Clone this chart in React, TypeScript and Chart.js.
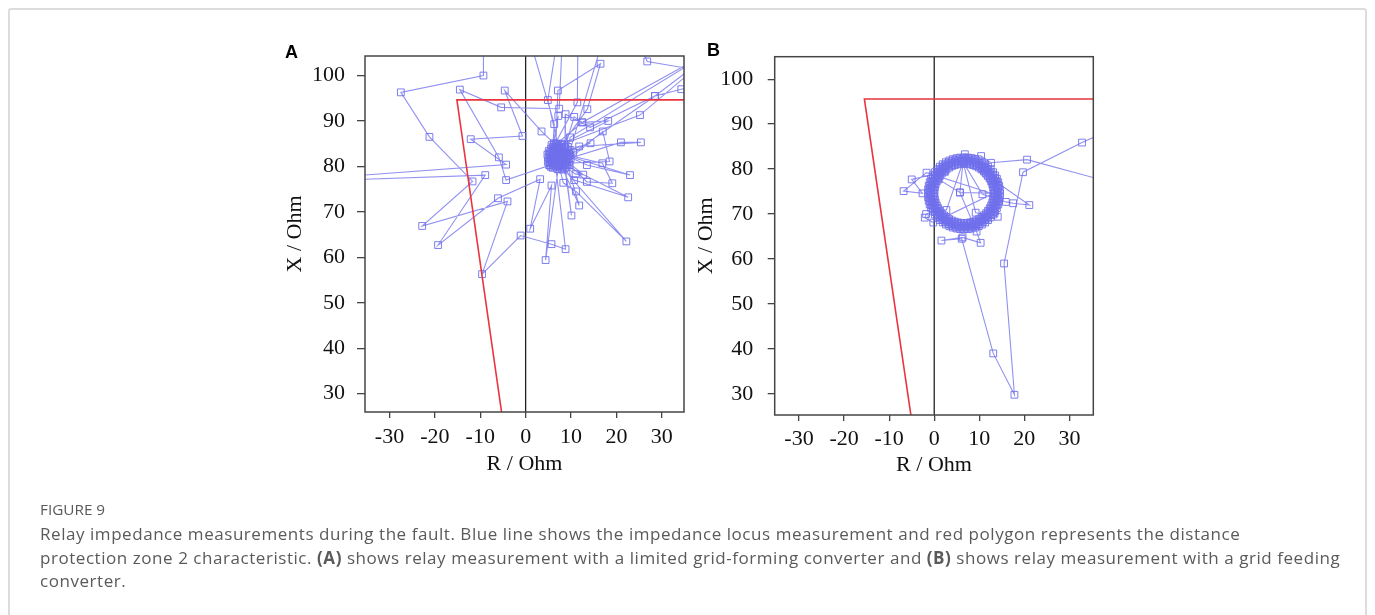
import React, { useEffect, useRef } from 'react';
import { Chart, registerables } from 'chart.js';
Chart.register(...registerables);

type Pt = [number, number];

const xTicks = [-30, -20, -10, 0, 10, 20, 30];
const yTicks = [30, 40, 50, 60, 70, 80, 90, 100];

// Zone 2 characteristic (quadrilateral, visible part)
const zoneA: Pt[] = [[40, 94.65], [-15.15, 94.65], [-4.45, 20]];
const zoneB: Pt[] = [[40, 95.6], [-15.5, 95.6], [-4.4, 20]];
const rZeroLine: Pt[] = [[0, 20], [0, 110]];

// Panel A: limited grid-forming converter
const locusA: Pt[] = [
  [-9.3, 118], [-9.3, 100.0], [-27.5, 96.3], [-21.2, 86.5], [-11.7, 76.7], [-22.8, 66.9],
  [-4.0, 72.3], [-9.6, 56.3], [-1.1, 64.8], [5.7, 62.9], [8.8, 61.8], [6.2, 83.5], [7.8, 84.0],
  [4.4, 59.4], [5.7, 75.8], [1.0, 66.3], [3.2, 77.2], [-6.1, 73.0], [-19.3, 62.7], [-8.9, 78.1],
  [-60, 76.3], [-4.3, 80.4], [-12.1, 86.0], [-0.7, 86.7], [-4.6, 96.7], [3.5, 87.7], [8.6, 82.9],
  [9.0, 81.5], [-4.3, 77.0], [-5.9, 82.0], [-14.5, 96.9], [-5.4, 93.0], [7.4, 92.7], [8.5, 118],
  [4.9, 94.6], [8.1, 80.3], [6.5, 80.1], [7.1, 96.7], [16.5, 102.6], [13.6, 92.6], [5.4, 81.2],
  [5.3, 82.8], [11.4, 94.1], [11.6, 118], [-2, 118], [6.3, 89.3], [6.0, 84.3], [12.5, 89.7],
  [18.2, 90.0], [7.2, 84.5], [25.2, 91.3], [45, 108], [28.5, 95.5], [34.3, 97.0], [48, 99.5],
  [26.8, 103.1], [20, 118], [9.4, 82.2], [28.5, 95.5], [14.2, 88.6], [8.8, 91.5], [8.7, 80.6],
  [9.8, 86.4], [42, 106], [12.5, 89.7], [10.7, 90.9], [7.3, 79.8], [17.0, 87.7], [18.5, 81.1],
  [5.8, 80.6], [21.0, 85.3], [25.4, 85.3], [11.8, 84.4], [14.3, 85.1], [5.0, 82.0], [10.5, 83.1],
  [5.6, 83.9], [13.5, 80.3], [23.0, 78.1], [7.0, 83.0], [16.9, 80.7], [19.1, 76.3], [13.5, 76.6],
  [7.9, 82.1], [12.7, 78.2], [11.0, 78.3], [7.2, 81.0], [22.6, 73.2], [10.7, 77.0], [6.3, 81.8],
  [22.2, 63.5], [11.1, 74.5], [8.3, 76.4], [6.8, 82.6], [11.8, 71.4], [8.3, 83.3], [10.1, 69.2],
  [8.4, 81.3], [8.1, 79.3], [5.2, 80.3], [7.2, 91.1], [6.2, 85.1], [6.0, 81.0], [5.5, 82.4],
  [6.6, 84.0], [8.0, 84.3], [9.2, 83.0], [9.1, 80.9], [7.6, 80.5], [6.4, 80.6], [5.2, 81.6],
  [5.9, 83.2], [7.5, 83.6], [7.4, 82.4], [6.7, 81.4], [8.2, 81.8], [6.9, 80.8], [7.7, 83.0],
  [9.8, 82.5], [9.6, 81.0], [9.9, 83.6], [5.1, 83.4], [4.9, 81.0], [5.7, 84.7], [8.5, 84.8],
  [9.3, 84.3], [9.7, 80.3], [8.6, 79.6], [6.0, 79.7], [5.3, 80.2], [7.0, 79.4], [8.0, 79.5],
  [7.1, 85.0], [6.3, 84.8], [5.6, 79.9], [9.0, 79.9], [9.9, 81.7], [4.8, 82.6], [6.9, 84.2],
  [8.8, 84.0], [9.5, 83.5], [6.1, 82.2], [8.5, 82.5], [7.6, 81.6], [6.6, 83.2], [8.9, 82.0],
  [5.8, 81.5], [7.3, 84.1], [6.5, 82.0], [7.1, 82.2], [7.8, 81.2], [8.6, 81.9], [6.1, 83.0],
  [7.4, 83.9], [8.3, 82.9], [6.8, 80.4], [5.7, 81.9], [8.9, 83.1], [7.9, 84.7], [6.4, 84.3],
  [5.4, 83.1], [9.3, 81.6], [8.2, 80.0], [6.2, 80.2], [7.3, 80.1], [5.9, 82.7], [7.7, 82.5],
  [8.7, 83.9], [9.6, 82.8], [5.3, 81.9], [6.7, 85.0], [8.0, 85.0], [9.2, 80.4], [5.5, 80.7],
  [7.0, 81.8], [8.1, 83.6], [6.3, 83.6], [7.5, 80.9],
];

// Panel B: grid feeding converter — approach, then the circulating locus
const approachB: Pt[] = [
  [45, 91.5], [32.8, 85.9], [19.7, 79.3], [15.5, 59.0], [17.8, 29.8], [13.1, 39.0], [6.1, 64.5],
  [1.6, 64.1], [6.3, 64.8], [10.3, 63.6], [9.4, 66.1], [5.7, 74.8], [6.4, 81.6], [2.7, 70.9],
  [-1.8, 70.0], [-2.1, 69.2], [-0.2, 68.1],
];
const ringB1: Pt[] = [
  [13.2, 74.6], [13.16, 75.29], [13.06, 75.97], [12.88, 76.64], [12.63, 77.28], [12.32, 77.9],
  [11.94, 78.48], [11.5, 79.02], [11.02, 79.5], [10.48, 79.94], [9.9, 80.32], [9.28, 80.63],
  [8.64, 80.88], [7.97, 81.06], [7.29, 81.16], [6.6, 81.2], [5.91, 81.16], [5.23, 81.06],
  [4.56, 80.88], [3.92, 80.63], [3.3, 80.32], [2.72, 79.94], [2.18, 79.5], [1.7, 79.02],
  [1.26, 78.48], [0.88, 77.9], [0.57, 77.28], [0.32, 76.64], [0.14, 75.97], [0.04, 75.29],
  [0.0, 74.6], [0.04, 73.91], [0.14, 73.23], [0.32, 72.56], [0.57, 71.92], [0.88, 71.3],
  [1.26, 70.72], [1.7, 70.18], [2.18, 69.7], [2.72, 69.26], [3.3, 68.88], [3.92, 68.57],
  [4.56, 68.32], [5.23, 68.14], [5.91, 68.04], [6.6, 68.0], [7.29, 68.04], [7.97, 68.14],
  [8.64, 68.32], [9.28, 68.57], [9.9, 68.88], [10.48, 69.26], [11.02, 69.7], [11.5, 70.18],
  [11.94, 70.72], [12.32, 71.3], [12.63, 71.92], [12.88, 72.56], [13.06, 73.23], [13.16, 73.91],
];
const spokesB1: Pt[] = [
  [13.1, 77.6], [21.1, 72.0], [17.5, 72.4], [15.9, 72.7], [10.7, 74.4], [6.4, 81.6], [9.2, 70.3],
  [14.1, 69.4],
];
const ringB2: Pt[] = [
  [13.89, 74.98], [13.81, 75.74], [13.65, 76.49], [13.42, 77.22], [13.1, 77.91], [12.72, 78.58],
  [12.27, 79.19], [11.76, 79.76], [11.19, 80.27], [10.58, 80.72], [9.91, 81.1], [9.22, 81.42],
  [8.49, 81.65], [7.74, 81.81], [6.98, 81.89], [6.22, 81.89], [5.46, 81.81], [4.71, 81.65],
  [3.98, 81.42], [3.29, 81.1], [2.62, 80.72], [2.01, 80.27], [1.44, 79.76], [0.93, 79.19],
  [0.48, 78.58], [0.1, 77.91], [-0.22, 77.22], [-0.45, 76.49], [-0.61, 75.74], [-0.69, 74.98],
  [-0.69, 74.22], [-0.61, 73.46], [-0.45, 72.71], [-0.22, 71.98], [0.1, 71.29], [0.48, 70.62],
  [0.93, 70.01], [1.44, 69.44], [2.01, 68.93], [2.62, 68.48], [3.29, 68.1], [3.98, 67.78],
  [4.71, 67.55], [5.46, 67.39], [6.22, 67.31], [6.98, 67.31], [7.74, 67.39], [8.49, 67.55],
  [9.22, 67.78], [9.91, 68.1], [10.58, 68.48], [11.19, 68.93], [11.76, 69.44], [12.27, 70.01],
  [12.72, 70.62], [13.1, 71.29], [13.42, 71.98], [13.65, 72.71], [13.81, 73.46], [13.89, 74.22],
];
const spokesB2: Pt[] = [
  [-1.7, 79.2], [-6.8, 75.1], [-2.6, 74.6], [-5.0, 77.7], [2.4, 79.4], [1.0, 77.7], [5.7, 74.8],
];
const ringB3: Pt[] = [
  [14.6, 74.6], [14.56, 75.44], [14.42, 76.26], [14.21, 77.07], [13.91, 77.85], [13.53, 78.6],
  [13.07, 79.3], [12.54, 79.95], [11.95, 80.54], [11.3, 81.07], [10.6, 81.53], [9.85, 81.91],
  [9.07, 82.21], [8.26, 82.42], [7.44, 82.56], [6.6, 82.6], [5.76, 82.56], [4.94, 82.42],
  [4.13, 82.21], [3.35, 81.91], [2.6, 81.53], [1.9, 81.07], [1.25, 80.54], [0.66, 79.95],
  [0.13, 79.3], [-0.33, 78.6], [-0.71, 77.85], [-1.01, 77.07], [-1.22, 76.26], [-1.36, 75.44],
  [-1.4, 74.6], [-1.36, 73.76], [-1.22, 72.94], [-1.01, 72.13], [-0.71, 71.35], [-0.33, 70.6],
  [0.13, 69.9], [0.66, 69.25], [1.25, 68.66], [1.9, 68.13], [2.6, 67.67], [3.35, 67.29],
  [4.13, 66.99], [4.94, 66.78], [5.76, 66.64], [6.6, 66.6], [7.44, 66.64], [8.26, 66.78],
  [9.07, 66.99], [9.85, 67.29], [10.6, 67.67], [11.3, 68.13], [11.95, 68.66], [12.54, 69.25],
  [13.07, 69.9], [13.53, 70.6], [13.91, 71.35], [14.21, 72.13], [14.42, 72.94], [14.56, 73.76],
];
const ringB4: Pt[] = [
  [13.55, 74.6], [13.51, 75.33], [13.4, 76.04], [13.21, 76.75], [12.95, 77.43], [12.62, 78.08],
  [12.22, 78.69], [11.76, 79.25], [11.25, 79.76], [10.69, 80.22], [10.08, 80.62], [9.43, 80.95],
  [8.75, 81.21], [8.04, 81.4], [7.33, 81.51], [6.6, 81.55], [5.87, 81.51], [5.16, 81.4],
  [4.45, 81.21], [3.77, 80.95], [3.12, 80.62], [2.51, 80.22], [1.95, 79.76], [1.44, 79.25],
  [0.98, 78.69], [0.58, 78.08], [0.25, 77.43], [-0.01, 76.75], [-0.2, 76.04], [-0.31, 75.33],
  [-0.35, 74.6], [-0.31, 73.87], [-0.2, 73.16], [-0.01, 72.45], [0.25, 71.77], [0.58, 71.12],
  [0.98, 70.51], [1.44, 69.95], [1.95, 69.44], [2.51, 68.98], [3.12, 68.58], [3.77, 68.25],
  [4.45, 67.99], [5.16, 67.8], [5.87, 67.69], [6.6, 67.65], [7.33, 67.69], [8.04, 67.8],
  [8.75, 67.99], [9.43, 68.25], [10.08, 68.58], [10.69, 68.98], [11.25, 69.44], [11.76, 69.95],
  [12.22, 70.51], [12.62, 71.12], [12.95, 71.77], [13.21, 72.45], [13.4, 73.16], [13.51, 73.87],
];
const ringB5: Pt[] = [
  [14.24, 75.0], [14.16, 75.8], [13.99, 76.58], [13.74, 77.34], [13.42, 78.07], [13.02, 78.77],
  [12.54, 79.41], [12.01, 80.01], [11.41, 80.54], [10.77, 81.02], [10.07, 81.42], [9.34, 81.74],
  [8.58, 81.99], [7.8, 82.16], [7.0, 82.24], [6.2, 82.24], [5.4, 82.16], [4.62, 81.99],
  [3.86, 81.74], [3.13, 81.42], [2.43, 81.02], [1.79, 80.54], [1.19, 80.01], [0.66, 79.41],
  [0.18, 78.77], [-0.22, 78.07], [-0.54, 77.34], [-0.79, 76.58], [-0.96, 75.8], [-1.04, 75.0],
  [-1.04, 74.2], [-0.96, 73.4], [-0.79, 72.62], [-0.54, 71.86], [-0.22, 71.13], [0.18, 70.43],
  [0.66, 69.79], [1.19, 69.19], [1.79, 68.66], [2.43, 68.18], [3.13, 67.78], [3.86, 67.46],
  [4.62, 67.21], [5.4, 67.04], [6.2, 66.96], [7.0, 66.96], [7.8, 67.04], [8.58, 67.21],
  [9.34, 67.46], [10.07, 67.78], [10.77, 68.18], [11.41, 68.66], [12.01, 69.19], [12.54, 69.79],
  [13.02, 70.43], [13.42, 71.13], [13.74, 71.86], [13.99, 72.62], [14.16, 73.4], [14.24, 74.2],
];
const exitB: Pt[] = [
  [6.8, 83.3], [10.4, 82.9], [12.6, 81.4], [20.6, 82.1], [45, 75.5],
];
const locusB: Pt[] = [
  ...approachB, ...ringB1, ...spokesB1, ...ringB2, ...spokesB2, ...ringB3, ...ringB4, ...ringB5, ...exitB,
];

const SERIF = "'Liberation Serif', 'Times New Roman', serif";
const BLUE_LINE = 'rgba(118,118,238,0.8)';
const BLUE_MARK = 'rgba(112,112,236,0.9)';

const framePlugin = {
  id: 'frameBox',
  afterDatasetsDraw(chart: any) {
    const { ctx, chartArea: a } = chart;
    ctx.save();
    ctx.strokeStyle = '#454545';
    ctx.lineWidth = 1.5;
    ctx.strokeRect(a.left, a.top, a.right - a.left, a.bottom - a.top);
    ctx.restore();
  },
};

interface PanelProps {
  locus: Pt[]; zone: Pt[];
  xMin: number; xMax: number; yMin: number; yMax: number;
  left: number; top: number; width: number; height: number;
  axisW: number; axisH: number; padTop: number; padRight: number;
  yTickPad: number; yTickLen: number; xTickPad: number; xTickLen: number;
  yTitlePad: number; xTitlePad: number;
}

function Panel(p: PanelProps) {
  const ref = useRef<HTMLCanvasElement>(null);
  useEffect(() => {
    const toPts = (a: Pt[]) => a.map(([x, y]) => ({ x, y }));
    const tickFont = { family: SERIF, size: 22 };
    const chart = new Chart(ref.current as HTMLCanvasElement, {
      type: 'scatter',
      data: {
        datasets: [
          { data: toPts(p.zone), showLine: true, borderColor: '#e8353f', borderWidth: 1.6, pointRadius: 0, order: 0 } as any,
          {
            data: toPts(p.locus), showLine: true, borderColor: BLUE_LINE, borderWidth: 1.1,
            pointStyle: 'rect', pointRadius: 4.8, pointBorderColor: BLUE_MARK,
            pointBorderWidth: 1, pointBackgroundColor: 'rgba(0,0,0,0)', order: 1,
          } as any,
          { data: toPts(rZeroLine), showLine: true, borderColor: '#222', borderWidth: 1.3, pointRadius: 0, order: 2 } as any,
        ],
      },
      options: {
        animation: false,
        responsive: false,
        layout: { padding: { top: p.padTop, right: p.padRight, left: 0, bottom: 0 } },
        plugins: { legend: { display: false }, tooltip: { enabled: false } },
        scales: {
          x: {
            type: 'linear', min: p.xMin, max: p.xMax,
            afterBuildTicks: (s: any) => { s.ticks = xTicks.map((v) => ({ value: v })); },
            afterFit: (s: any) => { s.height = p.axisH; s.paddingLeft = 0; s.paddingRight = 0; },
            ticks: { font: tickFont, color: '#111', padding: p.xTickPad, maxRotation: 0, autoSkip: false },
            grid: { drawOnChartArea: false, drawTicks: true, tickLength: p.xTickLen, color: '#444', lineWidth: 1.3 },
            border: { display: false },
            title: { display: true, text: 'R / Ohm', font: tickFont, color: '#111', padding: { top: 0, bottom: p.xTitlePad } },
          },
          y: {
            type: 'linear', min: p.yMin, max: p.yMax,
            afterBuildTicks: (s: any) => { s.ticks = yTicks.map((v) => ({ value: v })); },
            afterFit: (s: any) => { s.width = p.axisW; s.paddingTop = 0; s.paddingBottom = 0; },
            ticks: { font: tickFont, color: '#111', padding: p.yTickPad, autoSkip: false },
            grid: { drawOnChartArea: false, drawTicks: true, tickLength: p.yTickLen, color: '#444', lineWidth: 1.3 },
            border: { display: false },
            title: { display: true, text: 'X / Ohm', font: tickFont, color: '#111', padding: { top: p.yTitlePad, bottom: 0 } },
          },
        },
      } as any,
      plugins: [framePlugin],
    });
    return () => chart.destroy();
  }, []);
  return (
    <canvas
      ref={ref}
      width={p.width}
      height={p.height}
      style={{ position: 'absolute', left: p.left, top: p.top, width: p.width, height: p.height }}
    />
  );
}

const captionStyle: React.CSSProperties = {
  position: 'absolute', left: 32, fontFamily: "'Open Sans', sans-serif", fontSize: 17,
  letterSpacing: '0.55px', lineHeight: '23.5px', color: '#5a5a5a', whiteSpace: 'nowrap',
};

export default function App() {
  return (
    <div style={{ position: 'relative', width: 1359, height: 599, background: '#fff' }}>
      <div style={{ position: 'fixed', left: 8, top: 8, width: 1359, height: 800, boxSizing: 'border-box', border: '2px solid #dcdcdc', borderRadius: 3 }} />
      <div style={{ position: 'absolute', left: 277, top: 34, fontFamily: "'Liberation Sans', Arial, sans-serif", fontWeight: 700, fontSize: 18, color: '#000' }}>A</div>
      <div style={{ position: 'absolute', left: 699, top: 32, fontFamily: "'Liberation Sans', Arial, sans-serif", fontWeight: 700, fontSize: 18, color: '#000' }}>B</div>
      <Panel
        locus={locusA} zone={zoneA}
        xMin={-35.4} xMax={34.9} yMin={25.97} yMax={104.3}
        left={262} top={32} width={430} height={440}
        axisW={95} axisH={68} padTop={16} padRight={16}
        yTickPad={12} yTickLen={8} xTickPad={6} xTickLen={6}
        yTitlePad={11.8} xTitlePad={2.8}
      />
      <Panel
        locus={locusB} zone={zoneB}
        xMin={-35.4} xMax={35.3} yMin={25.3} yMax={105}
        left={672} top={32} width={430} height={440}
        axisW={94.7} axisH={65} padTop={16.7} padRight={16.7}
        yTickPad={14.4} yTickLen={7} xTickPad={5.5} xTickLen={6}
        yTitlePad={12.8} xTitlePad={1.8}
      />
      <div style={{ ...captionStyle, top: 490, fontSize: 15.3, letterSpacing: 0 }}>FIGURE 9</div>
      <div style={{ ...captionStyle, top: 514 }}>
        <div>Relay impedance measurements during the fault. Blue line shows the impedance locus measurement and red polygon represents the distance</div>
        <div>protection zone 2 characteristic. <b>(A)</b> shows relay measurement with a limited grid-forming converter and <b>(B)</b> shows relay measurement with a grid feeding</div>
        <div>converter.</div>
      </div>
    </div>
  );
}
